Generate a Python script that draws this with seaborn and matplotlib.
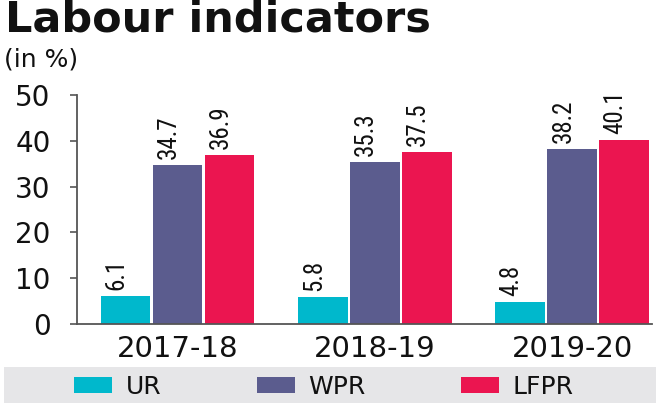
import matplotlib
matplotlib.use("Agg")
import matplotlib.pyplot as plt
from matplotlib import font_manager
from matplotlib.patches import Rectangle
import seaborn as sns
import pandas as pd

years = ["2017-18", "2018-19", "2019-20"]
series = ["UR", "WPR", "LFPR"]
ur = [6.1, 5.8, 4.8]
wpr = [34.7, 35.3, 38.2]
lfpr = [36.9, 37.5, 40.1]
colors = ["#00B8CC", "#5B5C8E", "#EB1550"]
yticks = [0, 10, 20, 30, 40, 50]

df = pd.DataFrame({"year": years, "UR": ur, "WPR": wpr, "LFPR": lfpr})
long = df.melt(id_vars="year", value_vars=series, var_name="series", value_name="value")

sns.set_theme(style="white")
plt.rcParams["font.family"] = ["DejaVu Sans"]

names = {f.name for f in font_manager.fontManager.ttflist}
cond = "DejaVu Sans"
for cand in ["DejaVu Sans Condensed", "Liberation Sans Narrow", "Roboto Condensed"]:
    if cand in names:
        cond = cand
        break

W, H = 660, 408
fig = plt.figure(figsize=(W / 100, H / 100), dpi=100)
fig.patch.set_facecolor("white")
ax = fig.add_axes([77 / W, (H - 324) / H, (652 - 77) / W, (324 - 95) / H])

sns.barplot(data=long, x="year", y="value", hue="series", hue_order=series,
            palette=colors, width=0.79, gap=0.04, linewidth=0, saturation=1,
            ax=ax)

ax.set_ylim(0, 50)
ax.set_xlim(-0.509, 2.403)
ax.set_yticks(yticks)
ax.set_yticklabels([str(t) for t in yticks])
ax.set_xlabel("")
ax.set_ylabel("")

for s in ["top", "right"]:
    ax.spines[s].set_visible(False)
for s in ["left", "bottom"]:
    ax.spines[s].set_color("#555555")
    ax.spines[s].set_linewidth(1.3)

ax.tick_params(axis="y", length=5, width=1.2, color="#555555", pad=14,
               labelsize=20, labelcolor="#111111", left=True)
ax.tick_params(axis="x", length=0, pad=8, labelsize=21, labelcolor="#111111")

for cont in ax.containers:
    for bar in cont:
        h = bar.get_height()
        ax.annotate(f"{h:.1f}", (bar.get_x() + bar.get_width() / 2, h),
                    xytext=(-9, 6), textcoords="offset pixels",
                    rotation=90, ha="center", va="bottom",
                    fontsize=18, family=cond, color="#111111")

handles, labels = ax.get_legend_handles_labels()
if ax.get_legend() is not None:
    ax.get_legend().remove()

fig.add_artist(Rectangle((4 / W, (H - 403) / H), (656 - 4) / W, 36 / H,
                         transform=fig.transFigure, facecolor="#E6E6E8",
                         edgecolor="none", zorder=0))
fig.legend(handles, labels, loc="center", bbox_to_anchor=(324 / W, (H - 387) / H),
           ncol=3, frameon=False, fontsize=18, handlelength=1.52,
           handleheight=0.6, handletextpad=0.55, columnspacing=3.8,
           borderpad=0, labelcolor="#111111")

fig.text(5 / W, (H - 32) / H, "Labour indicators", fontsize=31, fontweight="bold",
         ha="left", va="baseline", color="#111111")
fig.text(4 / W, (H - 66) / H, "(in %)", fontsize=18, ha="left", va="baseline",
         color="#111111")

fig.savefig("out.png", dpi=100)
